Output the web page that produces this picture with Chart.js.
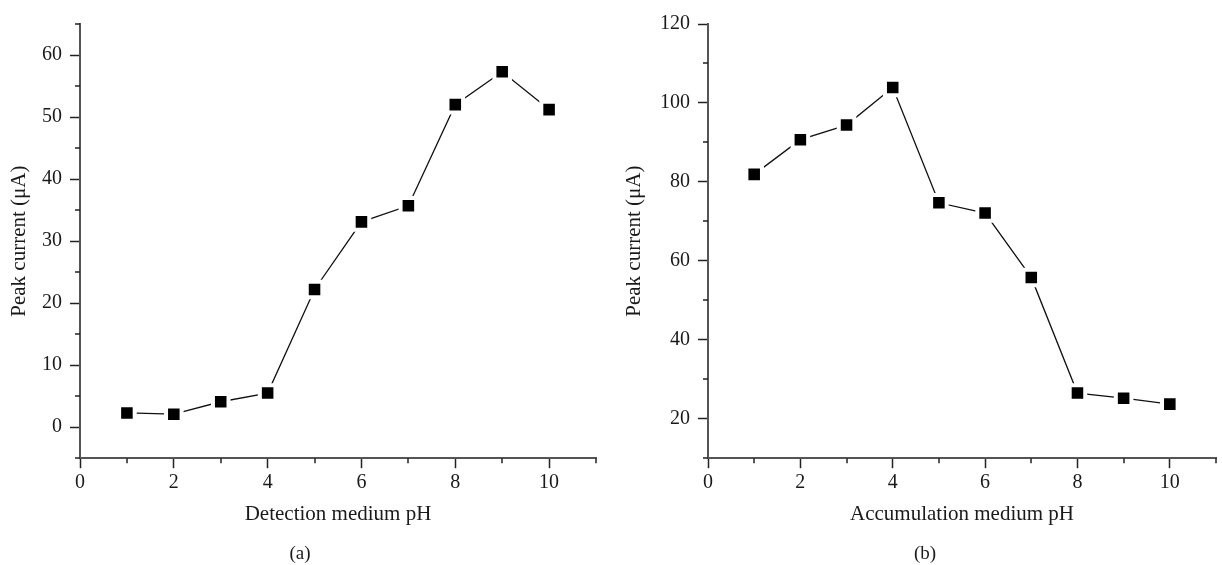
<!DOCTYPE html>
<html><head><meta charset="utf-8">
<script src="https://cdn.jsdelivr.net/npm/chart.js@4.4.0/dist/chart.umd.min.js"></script>
<style>
html,body{margin:0;padding:0;background:#fff;overflow:hidden;width:1222px;height:565px;position:relative;}
#wa{position:absolute;left:0;top:0;width:611px;height:565px;}
#wb{position:absolute;left:611px;top:0;width:620px;height:565px;}
</style></head><body>
<div id="wa"><canvas id="ca"></canvas></div>
<div id="wb"><canvas id="cb"></canvas></div>
<script>
// ---- data ----
const phValues = [1, 2, 3, 4, 5, 6, 7, 8, 9, 10];
const detectionCurrent = [2.3, 2.1, 4.1, 5.5, 22.2, 33.1, 35.7, 52.0, 57.3, 51.2];
const accumulationCurrent = [81.9, 90.7, 94.4, 103.9, 74.7, 72.1, 55.8, 26.5, 25.2, 23.7];
const xMajorTicks = [0, 2, 4, 6, 8, 10];
const xMinorTicks = [1, 3, 5, 7, 9, 11];
const yMajorTicksA = [0, 10, 20, 30, 40, 50, 60];
const yMinorTicksA = [-5, 5, 15, 25, 35, 45, 55, 65];
const yMajorTicksB = [20, 40, 60, 80, 100, 120];
const yMinorTicksB = [10, 30, 50, 70, 90, 110];

const FONT = "'Liberation Serif', 'Times New Roman', serif";
const AXIS_COLOR = '#555';
const TICK_COLOR = '#222';
const TEXT_COLOR = '#1a1a1a';

const minorTickPlugin = {
  id: 'minorTicks',
  afterDraw(chart, args, opts) {
    const ctx = chart.ctx;
    const xs = chart.scales.x, ys = chart.scales.y;
    const area = chart.chartArea;
    ctx.save();
    ctx.strokeStyle = TICK_COLOR;
    ctx.lineWidth = 1.5;
    ctx.beginPath();
    (opts.xMinor || []).forEach(v => {
      const px = Math.round(xs.getPixelForValue(v));
      ctx.moveTo(px, area.bottom);
      ctx.lineTo(px, area.bottom + 5);
    });
    (opts.yMinor || []).forEach(v => {
      const py = Math.round(ys.getPixelForValue(v));
      ctx.moveTo(area.left - 5, py);
      ctx.lineTo(area.left, py);
    });
    ctx.stroke();
    ctx.restore();
  }
};

function makeChart(canvasId, values, cfg) {
  return new Chart(document.getElementById(canvasId), {
    type: 'line',
    data: {
      datasets: [{
        data: phValues.map((x, i) => ({ x: x, y: values[i] })),
        borderColor: '#111',
        borderWidth: 1.3,
        tension: 0,
        fill: false,
        pointStyle: 'rect',
        pointRadius: 11,
        pointBackgroundColor: '#000',
        pointBorderColor: '#fff',
        pointBorderWidth: 4
      }]
    },
    plugins: [minorTickPlugin],
    options: {
      responsive: true,
      maintainAspectRatio: false,
      animation: false,
      events: [],
      layout: { padding: { top: 24, left: cfg.leftPad, right: cfg.rightPad, bottom: 0 } },
      plugins: {
        legend: { display: false },
        tooltip: { enabled: false },
        title: {
          display: true,
          text: cfg.panel,
          position: 'bottom',
          color: TEXT_COLOR,
          font: { family: FONT, size: 19, weight: 'normal' },
          padding: { top: 0, bottom: 0 }
        },
        minorTicks: { xMinor: xMinorTicks, yMinor: cfg.yMinor }
      },
      scales: {
        x: {
          type: 'linear',
          min: 0, max: 11,
          afterBuildTicks: s => { s.ticks = xMajorTicks.map(v => ({ value: v })); },
          afterFit: s => { s.height = 84; },
          grid: { drawOnChartArea: false, drawTicks: true, tickLength: 10, tickColor: TICK_COLOR, tickWidth: 1.5 },
          border: { display: true, color: AXIS_COLOR, width: 2 },
          ticks: { color: TEXT_COLOR, font: { family: FONT, size: 20 }, padding: 3, maxRotation: 0 },
          title: {
            display: true, text: cfg.xTitle, color: TEXT_COLOR,
            font: { family: FONT, size: 21 }, padding: { top: 0, bottom: 15 }
          }
        },
        y: {
          type: 'linear',
          min: cfg.yMin, max: cfg.yMax,
          afterBuildTicks: s => { s.ticks = cfg.yMajor.map(v => ({ value: v })); },
          afterFit: s => { s.width = cfg.yWidth; },
          grid: { drawOnChartArea: false, drawTicks: true, tickLength: 10, tickColor: TICK_COLOR, tickWidth: 1.5 },
          border: { display: true, color: AXIS_COLOR, width: 2 },
          ticks: { color: TEXT_COLOR, font: { family: FONT, size: 20 }, padding: 8 },
          title: {
            display: true, text: 'Peak current (μA)', color: TEXT_COLOR,
            font: { family: FONT, size: 21 }, padding: { top: cfg.yTitlePad, bottom: 0 }
          }
        }
      }
    }
  });
}

makeChart('ca', detectionCurrent, {
  panel: '(a)', xTitle: 'Detection medium pH',
  yMin: -5, yMax: 65, yMajor: yMajorTicksA, yMinor: yMinorTicksA,
  yWidth: 80, yTitlePad: 7, leftPad: 0, rightPad: 11
});
makeChart('cb', accumulationCurrent, {
  panel: '(b)', xTitle: 'Accumulation medium pH',
  yMin: 10, yMax: 120, yMajor: yMajorTicksB, yMinor: yMinorTicksB,
  yWidth: 86, yTitlePad: 0, leftPad: 11, rightPad: 3
});
</script>
</body></html>
